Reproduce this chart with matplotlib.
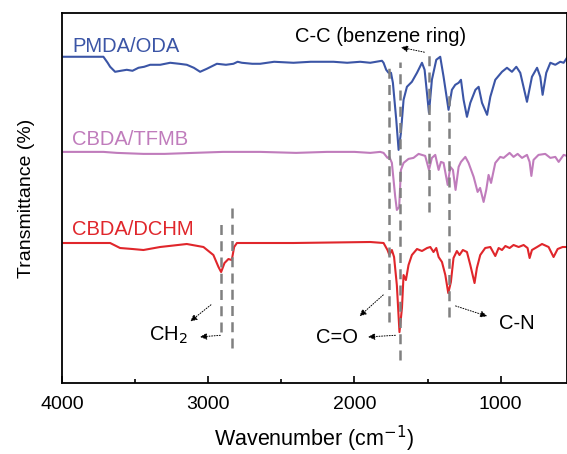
import numpy as np
import matplotlib
matplotlib.use("Agg")
import matplotlib.pyplot as plt

plt.rcParams['font.family'] = ['Liberation Sans', 'DejaVu Sans']

# ---- data (wavenumber in cm-1, transmittance in arb. units) ----
wn_pmda = [3993, 3850, 3719, 3690, 3673, 3639, 3600, 3559, 3520, 3479, 3440, 3399, 3330, 3262,
           3200, 3148, 3100, 3057, 3011, 2942, 2880, 2829, 2800, 2771, 2700, 2646, 2550, 2418,
           2300, 2144, 2050, 1961, 1892, 1812, 1801, 1783, 1767, 1750, 1737, 1714,
           1698, 1682, 1664, 1641, 1607, 1572, 1538, 1520, 1490, 1470, 1440, 1413, 1390,
           1356, 1333, 1310, 1287, 1271, 1253, 1230, 1207, 1172, 1150, 1127, 1092, 1070,
           1036, 990, 956, 922, 892, 865, 819, 785, 750, 728, 712, 687, 659, 625, 591,
           568, 545]
t_pmda = [326, 326, 326, 320, 316, 311, 312, 313, 312, 315, 316, 318, 318, 320,
          319, 318, 315, 311, 314, 319, 318, 319, 321, 320, 319, 319, 321, 320,
          321, 321, 320, 321, 320, 322, 320, 313, 310, 310, 300, 263,
          233, 250, 283, 296, 301, 310, 320, 313, 270, 303, 323, 326, 306,
          273, 293, 298, 300, 303, 283, 266, 280, 293, 296, 280, 268, 286,
          303, 311, 315, 311, 316, 310, 281, 306, 315, 306, 288, 310, 320, 318, 321,
          320, 325]

wn_tfmb = [3993, 3719, 3627, 3445, 3300, 3103, 2900, 2646, 2400, 2189, 2000, 1892, 1824, 1801,
           1774, 1761, 1744,
           1721, 1710, 1694, 1682, 1664, 1630, 1596, 1561, 1516, 1490, 1470, 1447, 1424,
           1408, 1390, 1362, 1344, 1326, 1308, 1287, 1271, 1241, 1219, 1184, 1157, 1140,
           1116, 1098, 1082, 1065, 1036, 1002, 979, 938, 911, 883, 853, 819, 801, 789,
           774, 740, 694, 659, 625, 602, 568, 545]
t_tfmb = [231, 231, 230, 229, 229, 230, 231, 231, 230, 231, 231, 230, 231, 230,
          225, 226, 220,
          186, 173, 176, 213, 220, 224, 225, 229, 227, 213, 225, 228, 213,
          221, 220, 198, 216, 213, 193, 216, 221, 226, 220, 206, 191, 195,
          181, 193, 208, 200, 220, 226, 225, 230, 226, 229, 225, 228, 221, 207,
          223, 228, 229, 225, 226, 221, 228, 227]

wn_dchm = [3993, 3673, 3605, 3520, 3445, 3331, 3148, 3034, 2966, 2931, 2913, 2890, 2863, 2840,
           2824, 2805, 2418, 1892, 1801, 1774, 1761, 1744, 1729, 1710, 1692, 1675, 1664,
           1648, 1630, 1607, 1572, 1538, 1503, 1481, 1459, 1440, 1424, 1401, 1378, 1358,
           1340, 1322, 1299, 1281, 1258, 1230, 1207, 1178, 1162, 1139, 1105, 1070, 1036,
           1013, 990, 967, 938, 911, 876, 842, 815, 801, 785, 750, 716, 671, 637, 609,
           575, 545]
t_dchm = [140, 140, 135, 134, 133, 136, 139, 136, 128, 116, 111, 120, 124, 123,
          136, 140, 140, 141, 140, 133, 128, 133, 126, 98, 51, 75, 108,
          103, 118, 128, 134, 132, 135, 136, 131, 135, 126, 121, 108, 90,
          101, 125, 132, 128, 133, 131, 118, 100, 115, 128, 135, 136, 127,
          135, 133, 137, 135, 138, 136, 138, 135, 125, 133, 136, 139, 136, 126, 134,
          136, 136]

names = ['PMDA/ODA', 'CBDA/TFMB', 'CBDA/DCHM']
colors = ['#3b55a6', '#c07cbc', '#e0262b']
label_level = [336, 243, 153]

# marker lines: wavenumber, lower end, upper end
mark_wn = [1767, 1687, 1490, 1353, 2913, 2836]
mark_lo = [61, 23, 171, 66, 51, 35]
mark_hi = [321, 321, 333, 293, 163, 181]

fig = plt.figure(figsize=(5.67, 4.54), dpi=100)
ax = fig.add_axes([0.110, 0.156, 0.890, 0.816])

for wn, t, c in zip([wn_pmda, wn_tfmb, wn_dchm], [t_pmda, t_tfmb, t_dchm], colors):
    ax.plot(wn, t, color=c, lw=1.5)

for n, c, lv in zip(names, colors, label_level):
    ax.text(3934, lv, n, color=c, fontsize=14.5, ha='left', va='center')

for w, lo, hi in zip(mark_wn, mark_lo, mark_hi):
    ax.plot([w, w], [lo, hi], color='#808080', lw=1.8, ls=(0, (4, 2.5)))

arr = dict(arrowstyle='-|>', color='black', lw=0.7, ls=':', mutation_scale=10)
ax.text(1824, 346, 'C-C (benzene ring)', fontsize=14.5, ha='center', va='center')
ax.annotate('', xy=(1701, 336), xytext=(1503, 330), arrowprops=arr)
ax.text(3275, 48, 'CH$_2$', fontsize=14.5, ha='center', va='center')
ax.annotate('', xy=(3139, 60), xytext=(2968, 80), arrowprops=arr)
ax.annotate('', xy=(3077, 46), xytext=(2900, 48), arrowprops=arr)
ax.text(2118, 46, 'C=O', fontsize=14.5, ha='center', va='center')
ax.annotate('', xy=(1980, 65), xytext=(1789, 90), arrowprops=arr)
ax.annotate('', xy=(1926, 46), xytext=(1701, 48), arrowprops=arr)
ax.text(888, 60, 'C-N', fontsize=14.5, ha='center', va='center')
ax.annotate('', xy=(1073, 66), xytext=(1326, 78), arrowprops=arr)

ax.set_xlim(4000, 545)
ax.set_ylim(0, 370)
ax.set_xticks([4000, 3000, 2000, 1000])
ax.set_xticks([3500, 2500, 1500], minor=True)
ax.set_yticks([])
ax.tick_params(axis='x', which='major', direction='in', length=5, width=1.2, labelsize=14, pad=9)
ax.tick_params(axis='x', which='minor', direction='in', length=3, width=1.2)
for s in ax.spines.values():
    s.set_linewidth(1.3)

ax.set_xlabel('Wavenumber (cm$^{-1}$)', fontsize=15.5, labelpad=8)
ax.set_ylabel('Transmittance (%)', fontsize=14, labelpad=20)

fig.savefig('out.png', dpi=100)
